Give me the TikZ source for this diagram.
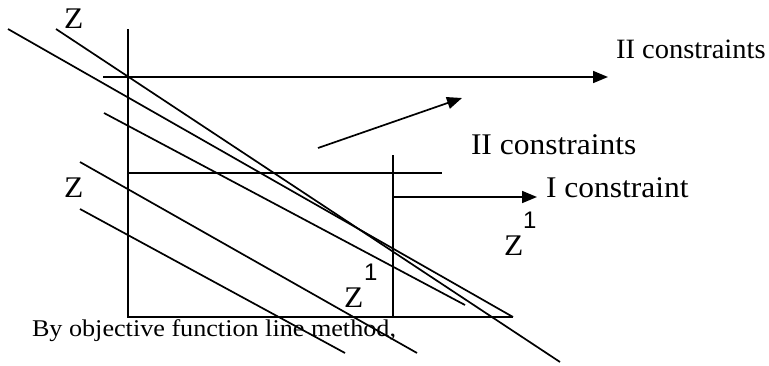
\documentclass[tikz,border=0pt]{standalone}
\usepackage{fontspec}
\setmainfont{Liberation Serif}
\newfontfamily\supfont{Liberation Sans}
\usetikzlibrary{arrows.meta}
\tikzset{
  ln/.style={line width=1.7pt, line cap=butt},
  arr/.style={ln, -{Triangle[length=15pt,width=12pt]}},
  lbl/.style={anchor=base west, inner sep=0pt, outer sep=0pt, font=\fontsize{30}{36}\selectfont, xscale=1.05},
  suplbl/.style={anchor=base west, inner sep=0pt, outer sep=0pt, font=\supfont\fontsize{24}{29}\selectfont},
  captext/.style={anchor=base west, inner sep=0pt, outer sep=0pt, font=\fontsize{24}{29}\selectfont, xscale=1.09}
}
\begin{document}
\begin{tikzpicture}[x=1pt,y=-1pt]
\useasboundingbox (0,0) rectangle (769,365);
% axes / constraint lines
\coordinate (v1t) at (128,29);
\coordinate (v1b) at (128,317);
\coordinate (bR) at (513,317);
\coordinate (v2t) at (393,155);
\coordinate (v2b) at (393,317);
\coordinate (mL) at (128,173);
\coordinate (mR) at (442,173);
\coordinate (tL) at (103,77);
\coordinate (tR) at (608,77);
\coordinate (iL) at (393,197);
\coordinate (iR) at (537,197);
\coordinate (dA) at (318,148);
\coordinate (dB) at (462,98);
% diagonal lines
\coordinate (l1a) at (8,29);    \coordinate (l1b) at (513,317);
\coordinate (l2a) at (56,29);   \coordinate (l2b) at (560,362);
\coordinate (l3a) at (104,113); \coordinate (l3b) at (465,305);
\coordinate (l4a) at (80,162);  \coordinate (l4b) at (417,353);
\coordinate (l5a) at (80,209);  \coordinate (l5b) at (345,353);

\draw[ln] (v1t) -- (v1b) -- (bR);
\draw[ln] (v2t) -- (v2b);
\draw[ln] (mL) -- (mR);
\draw[arr] (tL) -- (tR);
\draw[arr] (iL) -- (iR);
\draw[arr] (dA) -- (dB);
\draw[ln] (l1a) -- (l1b);
\draw[ln] (l2a) -- (l2b);
\draw[ln] (l3a) -- (l3b);
\draw[ln] (l4a) -- (l4b);
\draw[ln] (l5a) -- (l5b);

% labels
\node[lbl, font=\fontsize{28}{34}\selectfont, xscale=0.97] (t1) at (616,58) {II constraints};
\node[lbl] (t2) at (471,154) {II constraints};
\node[lbl] (t3) at (546,197) {I constraint};
\node[lbl] (z1) at (64,28) {Z};
\node[lbl] (z2) at (64,197) {Z};
\node[lbl] (z3) at (344,307) {Z};
\node[suplbl] (s3) at (364,280) {1};
\node[lbl] (z4) at (504,255) {Z};
\node[suplbl] (s4) at (523,228) {1};
\node[captext] (bt) at (32,336) {By objective function line method,};
\end{tikzpicture}
\end{document}
